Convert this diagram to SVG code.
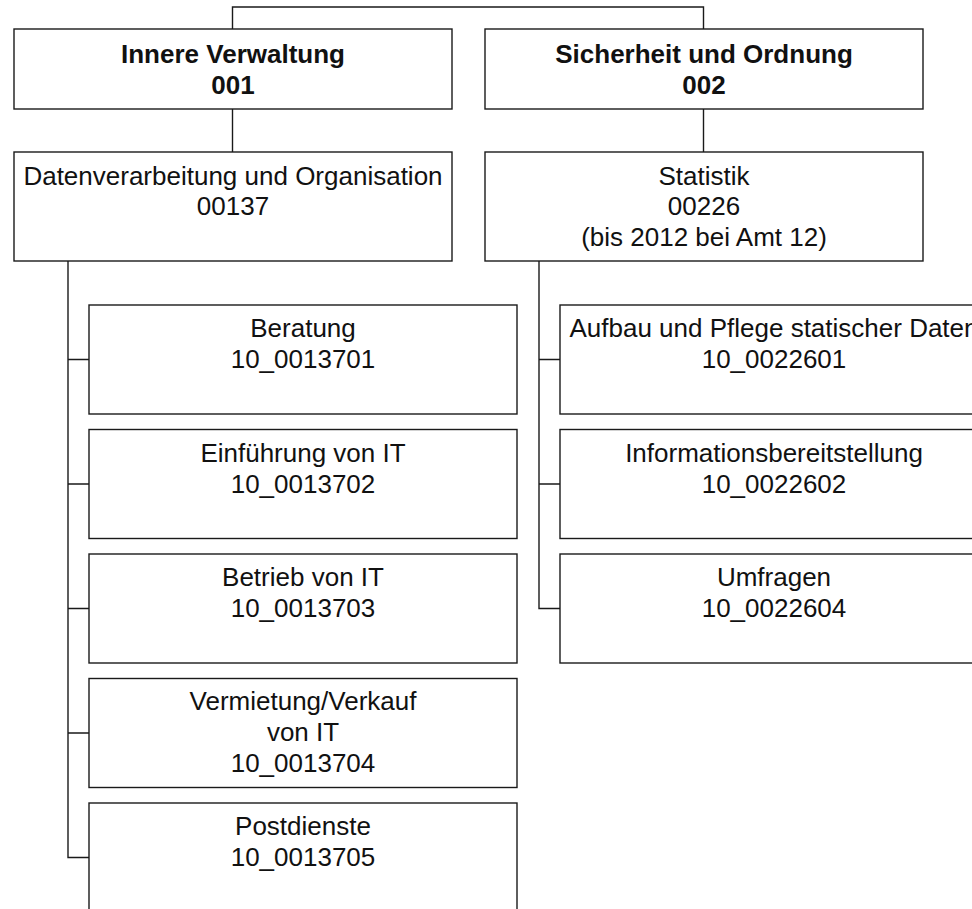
<svg xmlns="http://www.w3.org/2000/svg" width="972" height="909" viewBox="0 0 972 909">
<style>
.box{fill:#fff;stroke:#1a1a1a;stroke-width:1.4}
.con{fill:none;stroke:#1a1a1a;stroke-width:1.4}
text{font-family:"Liberation Sans",Arial,sans-serif;font-size:26px;fill:#111;text-anchor:middle}
.b{font-weight:bold}
</style>
<rect width="972" height="909" fill="#fff"/>
<g id="connectors">
<path class="con" d="M232.5,29 V7 H703.5 V29"/>
<path class="con" d="M232.5,109 V152"/>
<path class="con" d="M703.5,109 V152"/>
<path class="con" d="M68,261 V857.5 H89"/>
<path class="con" d="M68,359.5 H89 M68,484 H89 M68,608.5 H89 M68,733 H89"/>
<path class="con" d="M539,261 V608.5 H560"/>
<path class="con" d="M539,359.5 H560 M539,484 H560"/>
</g>
<g id="n001">
<rect class="box" x="14" y="29" width="438" height="80"/>
<text class="b" x="233" y="63">Innere Verwaltung</text>
<text class="b" x="233" y="94">001</text>
</g>
<g id="n002">
<rect class="box" x="485" y="29" width="438" height="80"/>
<text class="b" x="704" y="63">Sicherheit und Ordnung</text>
<text class="b" x="704" y="94">002</text>
</g>
<g id="n00137">
<rect class="box" x="14" y="152" width="438" height="109"/>
<text x="233" y="185">Datenverarbeitung und Organisation</text>
<text x="233" y="215">00137</text>
</g>
<g id="n00226">
<rect class="box" x="485" y="152" width="438" height="109"/>
<text x="704" y="185">Statistik</text>
<text x="704" y="215">00226</text>
<text x="704" y="246">(bis 2012 bei Amt 12)</text>
</g>
<g id="n13701">
<rect class="box" x="89" y="305" width="428" height="109"/>
<text x="303" y="337">Beratung</text>
<text x="303" y="368">10_0013701</text>
</g>
<g id="n13702">
<rect class="box" x="89" y="429.5" width="428" height="109"/>
<text x="303" y="461.5">Einführung von IT</text>
<text x="303" y="492.5">10_0013702</text>
</g>
<g id="n13703">
<rect class="box" x="89" y="554" width="428" height="109"/>
<text x="303" y="586">Betrieb von IT</text>
<text x="303" y="617">10_0013703</text>
</g>
<g id="n13704">
<rect class="box" x="89" y="678.5" width="428" height="109"/>
<text x="303" y="710">Vermietung/Verkauf</text>
<text x="303" y="741">von IT</text>
<text x="303" y="772">10_0013704</text>
</g>
<g id="n13705">
<rect class="box" x="89" y="803" width="428" height="109"/>
<text x="303" y="835">Postdienste</text>
<text x="303" y="866">10_0013705</text>
</g>
<g id="n22601">
<rect class="box" x="560" y="305" width="428" height="109"/>
<text x="774" y="337">Aufbau und Pflege statischer Daten</text>
<text x="774" y="368">10_0022601</text>
</g>
<g id="n22602">
<rect class="box" x="560" y="429.5" width="428" height="109"/>
<text x="774" y="461.5">Informationsbereitstellung</text>
<text x="774" y="492.5">10_0022602</text>
</g>
<g id="n22604">
<rect class="box" x="560" y="554" width="428" height="109"/>
<text x="774" y="586">Umfragen</text>
<text x="774" y="617">10_0022604</text>
</g>
</svg>
